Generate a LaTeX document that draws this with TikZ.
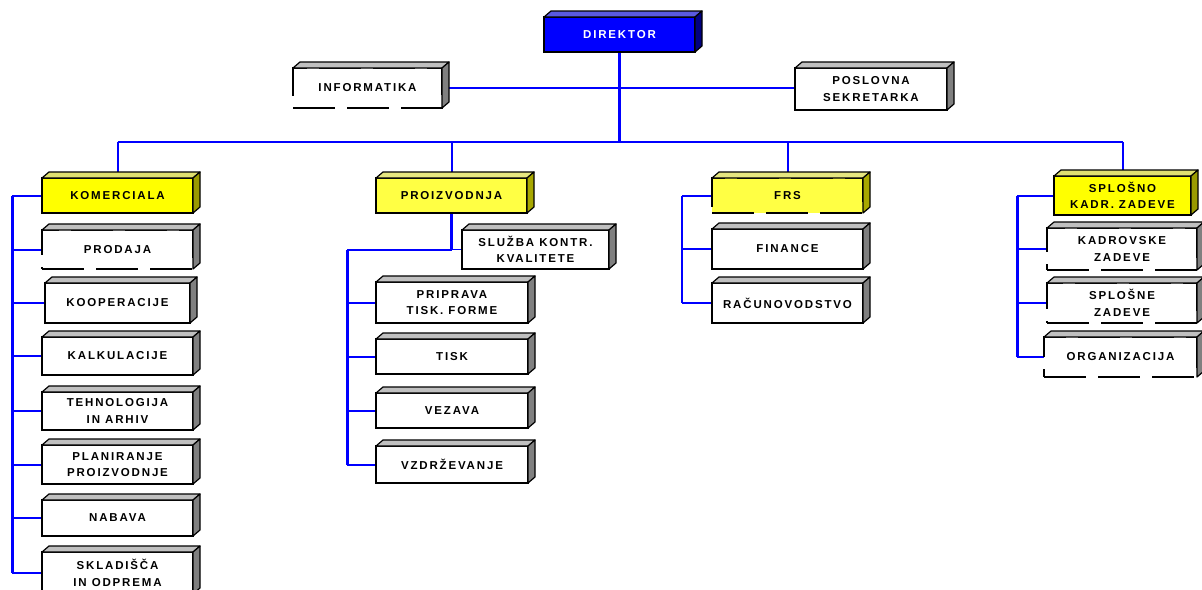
\documentclass[tikz,border=0pt]{standalone}
\usepackage{fontspec}
\newfontfamily\orgfont{Liberation Sans Bold}[LetterSpace=16]
\usetikzlibrary{calc}
\pgfdeclarelayer{bg}
\pgfdeclarelayer{canvas}
\pgfsetlayers{canvas,bg,main}
\definecolor{gfront}{HTML}{FFFFFF}
\definecolor{gtop}{HTML}{C0C0C0}
\definecolor{gside}{HTML}{808080}
\definecolor{yfront}{HTML}{FFFF00}
\definecolor{ytop}{HTML}{E0E070}
\definecolor{yside}{HTML}{9A9A00}
\definecolor{ylfront}{HTML}{FFFF44}
\definecolor{yltop}{HTML}{E6E680}
\definecolor{ylside}{HTML}{A8A800}
\definecolor{bfront}{HTML}{0000FF}
\definecolor{btop}{HTML}{5A5AE0}
\definecolor{bside}{HTML}{000080}
\definecolor{linkblue}{HTML}{0000FF}
\tikzset{
  orgnode/.style={draw=black, line width=1.3pt, inner sep=0pt, outer sep=0pt, align=center,
    font=\orgfont\fontsize{11.5}{16.5}\selectfont},
  face/.style={draw=black, line width=1.2pt, line join=round},
  dashbox/.style={dash pattern=on 42pt off 12pt},
  trunk/.style={draw=linkblue, line width=3pt},
  branch/.style={draw=linkblue, line width=2pt},
  twig/.style={draw=linkblue, line width=1.2pt},
}
% #1 kind, #2 extra options, #3 name, #4 x1, #5 y1, #6 x2, #7 y2, #8 text
\newcommand\orgbox[8]{%
  \pgfmathsetmacro\bw{#6-#4}%
  \pgfmathsetmacro\bh{#7-#5}%
  \node[orgnode, fill=#1front, minimum width=\bw pt, minimum height=\bh pt, #2] (#3) at ({(#4+#6)/2},{(#5+#7)/2}) {#8};
  \filldraw[face, fill=#1top] (#3.north west) -- ++(7,-6) -- ([shift={(7,-6)}]#3.north east) -- (#3.north east) -- cycle;
  \filldraw[face, fill=#1side] (#3.north east) -- ++(7,-6) -- ([shift={(7,-6)}]#3.south east) -- (#3.south east) -- cycle;
}
\begin{document}
\begin{tikzpicture}[x=1pt,y=-1pt]
\useasboundingbox (0,0) rectangle (1202,589);
\clip (0,0) rectangle (1202,589);
\begin{pgfonlayer}{canvas}
\fill[white] (0,0) rectangle (1202,589);
\end{pgfonlayer}

\orgbox{b}{text=white}{dir}{544}{17}{695}{52}{DIREKTOR}
\orgbox{g}{dashbox}{inf}{293}{68}{442}{108}{INFORMATIKA}
\orgbox{g}{}{pos}{795}{68}{947}{110}{POSLOVNA\\SEKRETARKA}

\orgbox{y}{}{kom}{42}{178}{193}{213}{KOMERCIALA}
\orgbox{g}{dashbox}{prd}{42}{230}{193}{269}{PRODAJA}
\orgbox{g}{}{koo}{45}{283}{190}{323}{KOOPERACIJE}
\orgbox{g}{}{kal}{42}{337}{193}{375}{KALKULACIJE}
\orgbox{g}{}{teh}{42}{392}{193}{430}{TEHNOLOGIJA\\IN ARHIV}
\orgbox{g}{}{pla}{42}{445}{193}{484}{PLANIRANJE\\PROIZVODNJE}
\orgbox{g}{}{nab}{42}{500}{193}{536}{NABAVA}
\orgbox{g}{}{skl}{42}{552}{193}{594}{SKLADIŠČA\\IN ODPREMA}

\orgbox{yl}{}{proiz}{376}{178}{527}{213}{PROIZVODNJA}
\orgbox{g}{}{slu}{462}{230}{609}{269}{SLUŽBA KONTR.\\KVALITETE}
\orgbox{g}{}{pri}{376}{282}{528}{323}{PRIPRAVA\\TISK. FORME}
\orgbox{g}{}{tis}{376}{339}{528}{374}{TISK}
\orgbox{g}{}{vez}{376}{393}{528}{428}{VEZAVA}
\orgbox{g}{}{vzd}{376}{446}{528}{483}{VZDRŽEVANJE}

\orgbox{yl}{dashbox}{frs}{712}{178}{863}{213}{FRS}
\orgbox{g}{}{fin}{712}{229}{863}{269}{FINANCE}
\orgbox{g}{}{rac}{712}{283}{863}{323}{RAČUNOVODSTVO}

\orgbox{y}{}{spl}{1054}{176}{1191}{215}{SPLOŠNO\\KADR. ZADEVE}
\orgbox{g}{dashbox}{kad}{1047}{228}{1197}{270}{KADROVSKE\\ZADEVE}
\orgbox{g}{dashbox}{sple}{1047}{283}{1197}{323}{SPLOŠNE\\ZADEVE}
\orgbox{g}{dashbox}{org}{1044}{337}{1197}{377}{ORGANIZACIJA}

\coordinate (hub) at (619.5,142);
\coordinate (kx) at (12,0);
\coordinate (px) at (347,0);
\coordinate (fx) at (682,0);
\coordinate (sx) at (1017,0);

\begin{pgfonlayer}{bg}
  \draw[trunk] (dir.south) -- (hub);
  \draw[twig] (inf.east) -- (inf.east -| pos.west);
  \draw[branch] (kom.north |- hub) -- (spl.north |- hub);
  \draw[branch] (kom.north |- hub) -- (kom.north);
  \draw[branch] (proiz.north |- hub) -- (proiz.north);
  \draw[branch] (frs.north |- hub) -- (frs.north);
  \draw[branch] (spl.north |- hub) -- (spl.north);
  % komerciala
  \draw[branch] (kom.west) -- (kom.west -| kx);
  \draw[trunk] (kom.west -| kx) -- (skl.west -| kx);
  \foreach \n in {prd,koo,kal,teh,pla,nab,skl} \draw[branch] (\n.west -| kx) -- (\n.west);
  % proizvodnja
  \draw[trunk] (proiz.south) -- (proiz.south |- slu.west);
  \draw[twig] (proiz.south |- slu.west) -- (slu.west);
  \draw[branch] (proiz.south |- slu.west) -- (slu.west -| px);
  \draw[trunk] (slu.west -| px) -- (vzd.west -| px);
  \foreach \n in {pri,tis,vez,vzd} \draw[branch] (\n.west -| px) -- (\n.west);
  % frs
  \draw[branch] (frs.west) -- (frs.west -| fx);
  \draw[branch] (frs.west -| fx) -- (rac.west -| fx);
  \foreach \n in {fin,rac} \draw[branch] (\n.west -| fx) -- (\n.west);
  % splosno
  \draw[branch] (spl.west) -- (spl.west -| sx);
  \draw[trunk] (spl.west -| sx) -- (org.west -| sx);
  \draw[branch] (kad.west -| sx) -- (kad.west);
  \draw[twig] (sple.west -| sx) -- (sple.west);
  \draw[branch] (org.west -| sx) -- (org.west);
\end{pgfonlayer}
\end{tikzpicture}
\end{document}
